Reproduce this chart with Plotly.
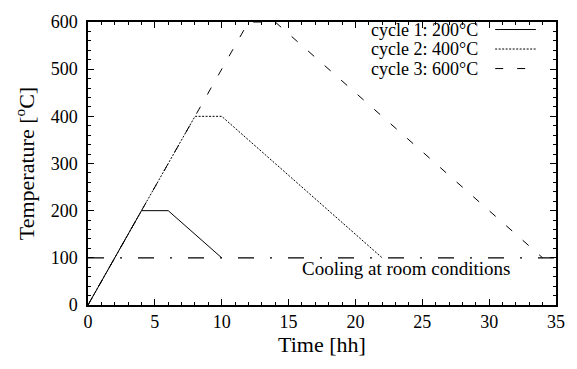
import plotly.graph_objects as go

# Heating / holding / cooling cycles (time in hours, temperature in degC)
cycle1_t = [0, 4, 6, 10]
cycle1_T = [0, 200, 200, 100]
cycle2_t = [0, 8, 10, 22]
cycle2_T = [0, 400, 400, 100]
cycle3_t = [0, 12, 14, 34]
cycle3_T = [0, 600, 600, 100]
room_t = [0, 35]
room_T = [100, 100]

names = ["cycle 1: 200°C", "cycle 2: 400°C", "cycle 3: 600°C"]
dashes = ["solid", "2px,1.5px", "8px,14px"]

x_ticks = [0, 5, 10, 15, 20, 25, 30, 35]
y_ticks = [0, 100, 200, 300, 400, 500, 600]

FONT = "Times New Roman, Liberation Serif, serif"

fig = go.Figure()
for t, T, nm, ds in zip([cycle1_t, cycle2_t, cycle3_t],
                        [cycle1_T, cycle2_T, cycle3_T], names, dashes):
    fig.add_trace(go.Scatter(x=t, y=T, mode="lines", name=nm,
                             line=dict(color="black", width=1, dash=ds),
                             showlegend=False))

fig.add_trace(go.Scatter(x=room_t, y=room_T, mode="lines", name="room",
                         line=dict(color="black", width=1.2,
                                   dash="16px,16px,2px,16px"),
                         showlegend=False))

fig.add_annotation(x=23.8, y=77, text="Cooling at room conditions",
                   showarrow=False, font=dict(family=FONT, size=19, color="black"))

# key drawn gnuplot-style: right-aligned text, line sample on the right
key_y = [0.9734, 0.9045, 0.8355]
for nm, ds, ky in zip(names, dashes, key_y):
    fig.add_annotation(xref="paper", yref="paper", x=0.836, y=ky, text=nm,
                       xanchor="right", yanchor="middle", showarrow=False,
                       borderpad=0,
                       font=dict(family=FONT, size=18, color="black"))
    fig.add_shape(type="line", xref="paper", yref="paper",
                  x0=0.870, x1=0.957, y0=ky, y1=ky,
                  line=dict(color="black", width=1, dash=ds))

axis_common = dict(
    showgrid=False, zeroline=False, showline=True, linecolor="black",
    linewidth=1.5, mirror="allticks", ticks="inside", ticklen=6,
    tickcolor="black", tickwidth=1,
    tickfont=dict(family=FONT, size=18, color="black"),
)

fig.update_xaxes(range=[0, 35], tickvals=x_ticks,
                 title=dict(text="Time [hh]", standoff=5,
                            font=dict(family=FONT, size=22, color="black")),
                 minor=dict(dtick=1, ticks="inside", ticklen=3,
                            tickcolor="black", tickwidth=1),
                 **axis_common)
fig.update_yaxes(range=[0, 600], tickvals=y_ticks, ticklabelstandoff=5,
                 title=dict(text="Temperature [<sup>o</sup>C]", standoff=10,
                            font=dict(family=FONT, size=22, color="black")),
                 minor=dict(dtick=20, ticks="inside", ticklen=3,
                            tickcolor="black", tickwidth=1),
                 **axis_common)

fig.update_layout(
    width=577, height=369,
    margin=dict(l=88, r=20, t=15, b=64),
    plot_bgcolor="white", paper_bgcolor="white",
    font=dict(family=FONT, color="black"),
)

fig.write_html("out.html")
